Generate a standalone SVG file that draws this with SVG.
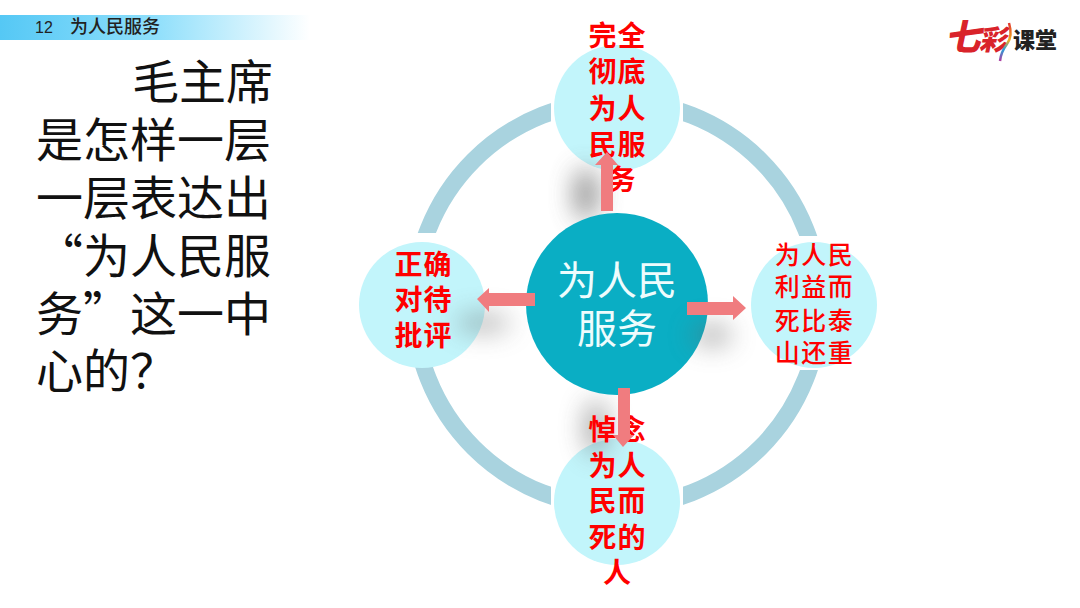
<svg xmlns="http://www.w3.org/2000/svg" width="1080" height="608" viewBox="0 0 1080 608">
<style>
text{font-family:"Noto Sans CJK SC","Noto Sans",sans-serif}
.body{font-size:47px;fill:#111}
.red{font-size:28px;font-weight:700;fill:#f00;text-anchor:middle;letter-spacing:1px}
.red2{font-size:25px;font-weight:500;fill:#f00;text-anchor:middle;letter-spacing:1.5px}
.sat{fill:#c2f5fb}
.ring{fill:none;stroke:#a9d3df;stroke-width:17}
.arrow{fill:#f07c7f}
.center{font-size:40px;fill:#eefcfd;text-anchor:middle}
.shade{fill:#666;filter:url(#blur)}
</style>
<defs>
<linearGradient id="bar" x1="0" x2="1" y1="0" y2="0">
<stop offset="0" stop-color="#55c8f5"/><stop offset="0.5" stop-color="#8fdffb"/><stop offset="1" stop-color="#fff"/>
</linearGradient>
<linearGradient id="streak" x1="0" x2="0" y1="0" y2="1">
<stop offset="0" stop-color="#e0342c"/><stop offset="0.45" stop-color="#f2b01e"/><stop offset="0.7" stop-color="#2a9fd8"/><stop offset="1" stop-color="#b03aa0"/>
</linearGradient>
<filter id="blur" filterUnits="userSpaceOnUse" x="0" y="0" width="1080" height="608"><feGaussianBlur stdDeviation="13"/></filter>
<clipPath id="gaps">
<rect x="300" y="0" width="251" height="233"/>
<rect x="683" y="0" width="300" height="236"/>
<rect x="300" y="367" width="251" height="241"/>
<rect x="683" y="370" width="300" height="238"/>
</clipPath>
</defs>
<rect width="1080" height="608" fill="#fff"/>
<g id="header">
<rect x="0" y="15" width="310" height="25" fill="url(#bar)"/>
<text x="35" y="33" font-size="16" fill="#222" style="font-family:'Liberation Sans',sans-serif">12</text>
<text x="70" y="33" font-size="18" font-weight="500" fill="#222">为人民服务</text>
</g>
<g id="question">
<text class="body" x="132" y="99">毛主席</text>
<text class="body" x="36" y="157">是怎样一层</text>
<text class="body" x="36" y="215">一层表达出</text>
<text class="body" x="36" y="273">“为人民服</text>
<text class="body" x="36" y="331">务”这一中</text>
<text class="body" x="36" y="388">心的？</text>
</g>
<g id="logo">
<text transform="translate(945 50) skewX(-12)" font-size="36" font-weight="900" fill="#d9232a">七</text>
<text transform="translate(979 50) skewX(-12)" font-size="28" font-weight="900" fill="#d9232a">彩</text>
<path d="M1009 23Q1013 36 1007 44T1000 61" fill="none" stroke="url(#streak)" stroke-width="2.5"/>
<text x="1013" y="48" font-size="22" font-weight="900" fill="#222">课堂</text>
</g>
<g id="ring">
<circle class="ring" cx="617" cy="304" r="203" clip-path="url(#gaps)"/>
</g>
<g id="node-top"><circle class="sat" cx="617" cy="108" r="63"/>
<ellipse class="shade" cx="586" cy="194" rx="11" ry="26" opacity="0.8"/>
<text class="red" x="617.5" y="46">完全</text><text class="red" x="617.5" y="82">彻底</text><text class="red" x="617.5" y="119">为人</text><text class="red" x="617.5" y="155">民服</text><text class="red" x="622" y="190">务</text></g>
<g id="node-left"><circle class="sat" cx="422" cy="305" r="63"/>
<ellipse class="shade" cx="483" cy="323" rx="28" ry="9" opacity="0.5"/>
<text class="red" x="423.5" y="275">正确</text><text class="red" x="423.5" y="310">对待</text><text class="red" x="423.5" y="346">批评</text></g>
<g id="node-right"><circle class="sat" cx="814" cy="305" r="63"/>
<text class="red2" x="814.5" y="264">为人民</text><text class="red2" x="814.5" y="296">利益而</text><text class="red2" x="814.5" y="330">死比泰</text><text class="red2" x="814.5" y="362">山还重</text></g>
<g id="node-bottom"><circle class="sat" cx="617" cy="502" r="63"/>
<ellipse class="shade" cx="596" cy="428" rx="11" ry="28" opacity="0.6"/>
<text class="red" x="617.5" y="440">悼念</text><text class="red" x="617.5" y="476">为人</text><text class="red" x="617.5" y="511">民而</text><text class="red" x="617.5" y="548">死的</text><text class="red" x="617.5" y="583">人</text></g>
<g id="node-center"><circle cx="617" cy="304" r="91" fill="#0aaec4"/>
<ellipse class="shade" cx="712" cy="335" rx="20" ry="11" opacity="0.5"/>
<text class="center" x="617" y="295">为人民</text><text class="center" x="617" y="343">服务</text></g>
<g id="connectors">
<polygon class="arrow" points="601,211 613,211 613,165 618,165 607,152 595,165 601,165"/>
<polygon class="arrow" points="618,388 630,388 630,435 634,435 623,447 613,435 618,435"/>
<polygon class="arrow" points="687,302 733,302 733,296 746,308 733,320 733,315 687,315"/>
<polygon class="arrow" points="535,293 489,293 489,288 477,299 489,312 489,306 535,306"/>
</g>
</svg>
